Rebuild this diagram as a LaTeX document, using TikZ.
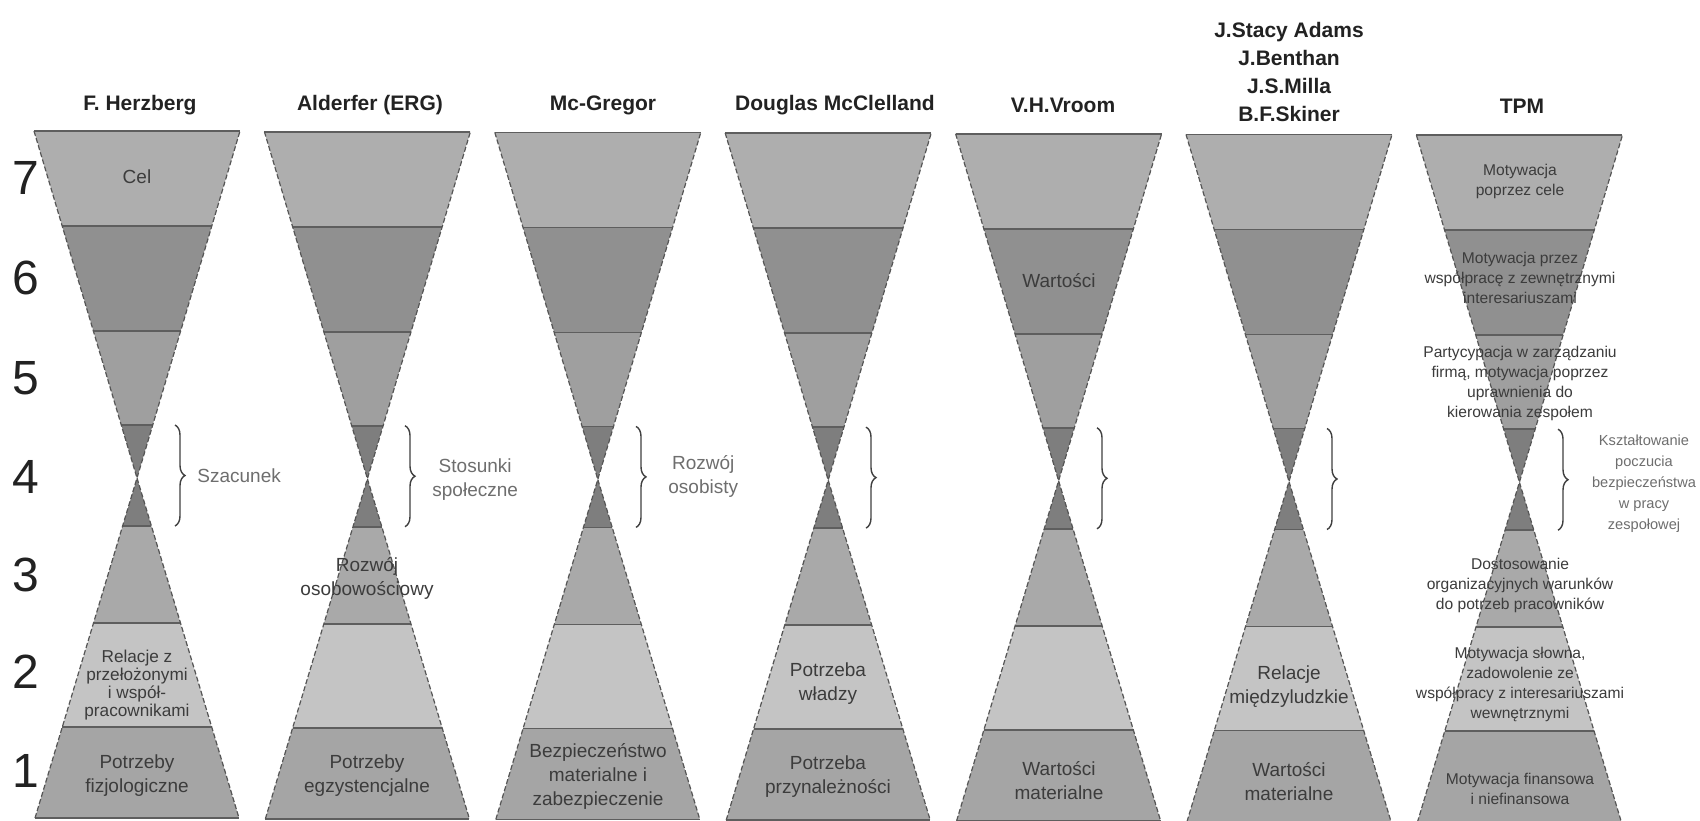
\documentclass[tikz,border=0pt]{standalone}
\usepackage{fontspec}
\setmainfont{Liberation Sans}
\usetikzlibrary{decorations.pathreplacing}
\definecolor{bSeven}{HTML}{AEAEAE}
\definecolor{bSix}{HTML}{909090}
\definecolor{bFive}{HTML}{9F9F9F}
\definecolor{bFour}{HTML}{7E7E7E}
\definecolor{bThree}{HTML}{A9A9A9}
\definecolor{bTwo}{HTML}{C4C4C4}
\definecolor{bOne}{HTML}{A5A5A5}
\definecolor{edgecol}{HTML}{555555}
\definecolor{sepcol}{HTML}{5E5E5E}
\definecolor{labtext}{HTML}{3C3C3C}
\definecolor{bracetext}{HTML}{6E6E6E}
\definecolor{titletext}{HTML}{222222}
\begin{document}
\begin{tikzpicture}[x=0.5pt,y=-0.5pt,
  title/.style={font=\fontsize{10.5}{14}\selectfont\bfseries, text=titletext, align=center, inner sep=0},
  lab/.style={font=\fontsize{9.5}{12}\selectfont, text=labtext, align=center, inner sep=0},
  smalllab/.style={font=\fontsize{8.6}{9}\selectfont, text=labtext, align=center, inner sep=0},
  tpmlab/.style={font=\fontsize{7.8}{10}\selectfont, text=labtext, align=center, inner sep=0},
  brlab/.style={font=\fontsize{9.5}{12}\selectfont, text=bracetext, align=center, anchor=west, inner sep=0},
  tpmbrlab/.style={font=\fontsize{7.3}{10.5}\selectfont, text=bracetext, align=center, inner sep=0},
  num/.style={font=\fontsize{24}{24}\selectfont, text=titletext, inner sep=0},
  side/.style={draw=edgecol, line width=0.6pt, dash pattern=on 2.5pt off 1.2pt},
  sep/.style={draw=sepcol, line width=0.9pt},
  rim/.style={draw=sepcol, line width=0.9pt},
  br/.style={decorate, decoration={brace, amplitude=5pt}, draw=black!75, line width=0.7pt}
]
\useasboundingbox (0,0) rectangle (1700,820);
\fill[white] (0,0) rectangle (1700,820);
% hourglasses
\foreach \i in {0,...,6}{
  \pgfmathsetmacro{\cx}{137+230.4*\i}
  \pgfmathsetmacro{\dy}{0.7*\i}
  \foreach \ya/\wa/\yb/\wb/\col in {131/103/226/74.8/bSeven, 226/74.8/331/43.6/bSix, 331/43.6/425/15.7/bFive, 425/15.7/478/0/bFour, 478/0/526/14.4/bFour, 526/14.4/623/43.5/bThree, 623/43.5/727/74.7/bTwo, 727/74.7/818/102/bOne}{
    \fill[fill=\col] (\cx-\wa,\ya+\dy) -- (\cx+\wa,\ya+\dy) -- (\cx+\wb,\yb+\dy) -- (\cx-\wb,\yb+\dy) -- cycle;
  }
  \foreach \ys/\ws in {226/74.8,331/43.6,425/15.7,526/14.4,623/43.5,727/74.7}{
    \draw[sep] (\cx-\ws,\ys+\dy) -- (\cx+\ws,\ys+\dy);
  }
  \draw[rim] (\cx-103,131+\dy) -- (\cx+103,131+\dy);
  \draw[rim] (\cx-102,818+\dy) -- (\cx+102,818+\dy);
  \draw[side] (\cx-103,131+\dy) -- (\cx,478+\dy) -- (\cx+103,131+\dy);
  \draw[side] (\cx-102,818+\dy) -- (\cx,478+\dy) -- (\cx+102,818+\dy);
}
% row numbers
\node[num] (n7) at (26,178) {7};
\node[num] (n6) at (26,278) {6};
\node[num] (n5) at (26,378) {5};
\node[num] (n4) at (26,477) {4};
\node[num] (n3) at (26,575) {3};
\node[num] (n2) at (26,672) {2};
\node[num] (n1) at (26,771) {1};
% titles
\node[title] (t0) at (140,105) {F. Herzberg};
\node[title] (t1) at (370,105) {Alderfer (ERG)};
\node[title] (t2) at (603,105) {Mc-Gregor};
\node[title] (t3) at (835,105) {Douglas McClelland};
\node[title] (t4) at (1063,105) {V.H.Vroom};
\node[title] (t5) at (1289,72) {J.Stacy Adams\\J.Benthan\\J.S.Milla\\B.F.Skiner};
\node[title] (t6) at (1522,106) {TPM};
% braces
\foreach \i/\bx/\dy in {0/175/0, 1/405/0.7, 2/636/1.4, 3/866/2.1, 4/1097/2.8, 5/1327/3.5, 6/1558/4.2}{
  \coordinate (bt\i) at (\bx,425+\dy);
  \coordinate (bb\i) at (\bx,526+\dy);
  \draw[br] (bt\i) -- (bb\i);
}
% Herzberg
\node[lab] (h7) at (137,177) {Cel};
\node[brlab] (hb) at (197,476) {Szacunek};
\node[smalllab] (h2) at (137,685) {Relacje z\\przełożonymi\\i współ-\\pracownikami};
\node[lab] (h1) at (137,776) {Potrzeby\\fizjologiczne};
% Alderfer
\node[brlab] (ab) at (432,480) {Stosunki\\społeczne};
\node[lab] (a3) at (367,578) {Rozwój\\osobowościowy};
\node[lab] (a1) at (367,776) {Potrzeby\\egzystencjalne};
% McGregor
\node[brlab] (mb) at (668,476) {Rozwój\\osobisty};
\node[lab] (m1) at (598,776) {Bezpieczeństwo\\materialne i\\zabezpieczenie};
% McClelland
\node[lab] (c2) at (828,684) {Potrzeba\\władzy};
\node[lab] (c1) at (828,777) {Potrzeba\\przynależności};
% Vroom
\node[lab] (v6) at (1059,281) {Wartości};
\node[lab] (v1) at (1059,781) {Wartości\\materialne};
% Adams
\node[lab] (s2) at (1289,687) {Relacje\\międzyludzkie};
\node[lab] (s1) at (1289,782) {Wartości\\materialne};
% TPM
\node[tpmlab] (p7) at (1520,181) {Motywacja\\poprzez cele};
\node[tpmlab] (p6) at (1520,278) {Motywacja przez\\współpracę z zewnętrznymi\\interesariuszami};
\node[tpmlab] (p5) at (1520,383) {Partycypacja w zarządzaniu\\firmą, motywacja poprzez\\uprawnienia do\\kierowania zespołem};
\node[tpmbrlab] (pb) at (1644,484) {Kształtowanie\\poczucia\\bezpieczeństwa\\w pracy\\zespołowej};
\node[tpmlab] (p3) at (1520,585) {Dostosowanie\\organizacyjnych warunków\\do potrzeb pracowników};
\node[tpmlab] (p2) at (1520,684) {Motywacja słowna,\\zadowolenie ze\\współpracy z interesariuszami\\wewnętrznymi};
\node[tpmlab] (p1) at (1520,789) {Motywacja finansowa\\i niefinansowa};
\end{tikzpicture}
\end{document}
